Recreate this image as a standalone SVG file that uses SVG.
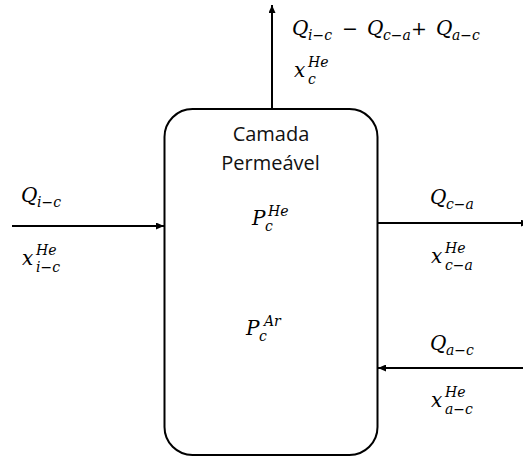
<svg xmlns="http://www.w3.org/2000/svg" width="523" height="457" viewBox="0 0 523 457">
<defs>
<style>
.ln{stroke:#000;stroke-width:2;fill:none}
.box{stroke:#000;stroke-width:2;fill:#fff}
.m{font-family:"DejaVu Serif",serif;font-style:italic;font-size:20px;fill:#000}
.s{font-family:"DejaVu Serif",serif;font-style:italic;font-size:14px;fill:#000}
.op{font-family:"DejaVu Serif",serif;font-size:19px;fill:#000}
.t{font-family:"Open Sans","Noto Sans",sans-serif;font-size:20px;fill:#111;text-anchor:middle}
</style>
<marker id="ah" viewBox="0 0 8 7" refX="8" refY="3.5" markerWidth="8" markerHeight="7" markerUnits="userSpaceOnUse" orient="auto">
<path d="M0,0 L8,3.5 L0,7 z" fill="#000"/>
</marker>
</defs>
<rect width="523" height="457" fill="#fff"/>
<g id="camada">
<rect class="box" x="164.5" y="109" width="213" height="346" rx="28" ry="28"/>
<text class="t" x="271" y="141">Camada</text>
<text class="t" x="270.5" y="170">Permeável</text>
<text class="m" x="252" y="225">P</text><text class="s" x="265" y="231">c</text><text class="s" x="268" y="216">He</text>
<text class="m" x="246" y="335">P</text><text class="s" x="259" y="341">c</text><text class="s" x="264" y="326">Ar</text>
</g>
<g id="connectors">
<line id="out-top" class="ln" x1="272" y1="109" x2="272" y2="5" marker-end="url(#ah)"/>
<line id="in-left" class="ln" x1="12" y1="226" x2="164" y2="226" marker-end="url(#ah)"/>
<line id="out-right" class="ln" x1="378" y1="223" x2="529" y2="223" marker-end="url(#ah)"/>
<line id="in-right" class="ln" x1="523" y1="368" x2="378" y2="368" marker-end="url(#ah)"/>
</g>
<g id="labels">
<g id="lbl-top">
<text class="m" x="292" y="35">Q</text><text class="s" x="308" y="40">i−c</text>
<text class="op" x="342" y="35">−</text>
<text class="m" x="367" y="35">Q</text><text class="s" x="383" y="40">c−a</text>
<text class="op" x="411" y="35">+</text>
<text class="m" x="436" y="35">Q</text><text class="s" x="452" y="40">a−c</text>
<text class="m" x="294" y="77">x</text><text class="s" x="308" y="66.5">He</text><text class="s" x="308" y="83.5">c</text>
</g>
<g id="lbl-left">
<text class="m" x="21" y="202">Q</text><text class="s" x="37" y="207">i−c</text>
<text class="m" x="22" y="265">x</text><text class="s" x="36" y="254.5">He</text><text class="s" x="36" y="271.5">i−c</text>
</g>
<g id="lbl-right-out">
<text class="m" x="430" y="204">Q</text><text class="s" x="446" y="209">c−a</text>
<text class="m" x="431" y="263">x</text><text class="s" x="445" y="252.5">He</text><text class="s" x="445" y="269.5">c−a</text>
</g>
<g id="lbl-right-in">
<text class="m" x="430" y="350">Q</text><text class="s" x="446" y="355">a−c</text>
<text class="m" x="431" y="407">x</text><text class="s" x="445" y="396.5">He</text><text class="s" x="445" y="413.5">a−c</text>
</g>
</g>
</svg>
